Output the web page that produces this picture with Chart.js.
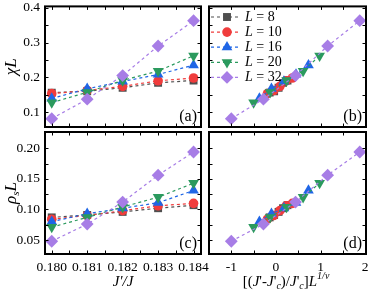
<!DOCTYPE html>
<html>
<head>
<meta charset="utf-8">
<script src="https://cdn.jsdelivr.net/npm/chart.js"></script>
<style>
  html, body { margin: 0; padding: 0; background: #fff; }
  #wrap { position: relative; width: 374px; height: 290px; }
  #wrap canvas { position: absolute; left: 0; top: 0; }
</style>
</head>
<body>
<div id="wrap">
  <canvas id="pa" width="374" height="290"></canvas>
  <canvas id="pb" width="374" height="290"></canvas>
  <canvas id="pc" width="374" height="290"></canvas>
  <canvas id="pd" width="374" height="290"></canvas>
</div>
<script>
// ---- data ----
const jRatio = [0.180, 0.181, 0.182, 0.183, 0.184];
const sizeLabels = ['8', '10', '16', '20', '32'];

// chi * L  (panel a, b)
const chiL8  = [0.156, 0.160, 0.170, 0.184, 0.191];
const chiL10 = [0.153, 0.162, 0.174, 0.190, 0.198];
const chiL16 = [0.139, 0.167, 0.188, 0.208, 0.235];
const chiL20 = [0.127, 0.157, 0.191, 0.218, 0.262];
const chiL32 = [0.081, 0.137, 0.205, 0.290, 0.363];

// rho_s * L  (panel c, d)
const rhoL8  = [0.087, 0.091, 0.096, 0.102, 0.107];
const rhoL10 = [0.084, 0.090, 0.098, 0.106, 0.110];
const rhoL16 = [0.080, 0.093, 0.102, 0.111, 0.131];
const rhoL20 = [0.071, 0.087, 0.104, 0.120, 0.143];
const rhoL32 = [0.048, 0.076, 0.112, 0.156, 0.194];

// [(J'-J'c)/J'c] L^(1/nu)  (panel b, d)
const scaled8  = [-0.14, -0.04, 0.06, 0.16, 0.26];
const scaled10 = [-0.19, -0.05, 0.09, 0.23, 0.37];
const scaled16 = [-0.37, -0.10, 0.18, 0.45, 0.73];
const scaled20 = [-0.50, -0.13, 0.24, 0.61, 0.98];
const scaled32 = [-1.00, -0.28, 0.44, 1.16, 1.88];

// ticks
const jTicks = [0.1800, 0.1805, 0.1810, 0.1815, 0.1820, 0.1825, 0.1830, 0.1835, 0.1840];
const jMajor = [0.180, 0.181, 0.182, 0.183, 0.184];
const jTickLabels = ['0.180', '0.181', '0.182', '0.183', '0.184'];
const chiTicks = [0.10, 0.15, 0.20, 0.25, 0.30, 0.35, 0.40];
const chiMajor = [0.1, 0.2, 0.3, 0.4];
const chiTickLabels = ['0.1', '0.2', '0.3', '0.4'];
const rhoTicks = [0.050, 0.075, 0.100, 0.125, 0.150, 0.175, 0.200];
const rhoMajor = [0.05, 0.10, 0.15, 0.20];
const rhoTickLabels = ['0.05', '0.10', '0.15', '0.20'];
const scTicks = [-1, -0.5, 0, 0.5, 1, 1.5, 2];
const scMajor = [-1, 0, 1, 2];
const scTickLabels = ['-1', '0', '1', '2'];

const chiSets = [chiL8, chiL10, chiL16, chiL20, chiL32];
const rhoSets = [rhoL8, rhoL10, rhoL16, rhoL20, rhoL32];
const scaledSets = [scaled8, scaled10, scaled16, scaled20, scaled32];

const styles = [
  { color: '#4f4f4f', point: 'rect', r: 5.6, rot: 0 },
  { color: '#f03c3c', point: 'circle', r: 4.8, rot: 0 },
  { color: '#1f66e6', point: 'triangle', r: 6.2, rot: 0 },
  { color: '#2b9a5e', point: 'triangle', r: 6.2, rot: 180 },
  { color: '#a77de6', point: 'rectRot', r: 6.4, rot: 0 },
];

const SERIF = "'Liberation Serif', 'DejaVu Serif', serif";
const Y_AXIS_W = 45;   // room for y tick labels
const X_AXIS_H = 28;   // room for x tick labels

function drawMarker(ctx, s, x, y) {
  const r = s.r;
  ctx.beginPath();
  if (s.point === 'rect') {
    const h = r * Math.SQRT1_2;
    ctx.rect(x - h, y - h, 2 * h, 2 * h);
  } else if (s.point === 'circle') {
    ctx.arc(x, y, r, 0, Math.PI * 2);
  } else if (s.point === 'rectRot') {
    ctx.moveTo(x - r, y); ctx.lineTo(x, y - r); ctx.lineTo(x + r, y); ctx.lineTo(x, y + r);
    ctx.closePath();
  } else {
    let a = s.rot * Math.PI / 180;
    for (let k = 0; k < 3; k++) {
      const px = x + Math.sin(a) * r, py = y - Math.cos(a) * r;
      k ? ctx.lineTo(px, py) : ctx.moveTo(px, py);
      a += 2 * Math.PI / 3;
    }
    ctx.closePath();
  }
  ctx.fillStyle = s.color;
  ctx.fill();
}

// draws a run of text parts centred on (cx, cy), optionally rotated
function drawRich(ctx, parts, cx, cy, rotate) {
  ctx.save();
  ctx.translate(cx, cy);
  if (rotate) ctx.rotate(-Math.PI / 2);
  ctx.textBaseline = 'middle';
  ctx.textAlign = 'left';
  ctx.fillStyle = '#000';
  const fontOf = p => (p.i ? 'italic ' : '') + p.size + 'px ' + SERIF;
  let w = 0;
  parts.forEach(p => { ctx.font = fontOf(p); w += ctx.measureText(p.t).width; });
  let x = -w / 2;
  parts.forEach(p => {
    ctx.font = fontOf(p);
    ctx.fillText(p.t, x, p.dy || 0);
    x += ctx.measureText(p.t).width;
  });
  ctx.restore();
}

const decor = {
  id: 'decor',
  afterDraw(chart, args, o) {
    const ctx = chart.ctx, a = chart.chartArea;
    const xs = chart.scales.x, ys = chart.scales.y;
    ctx.save();
    ctx.strokeStyle = '#000';
    ctx.lineWidth = 1;
    ctx.beginPath();
    xs.ticks.forEach(t => {
      const p = Math.round(xs.getPixelForValue(t.value)) + 0.5;
      ctx.moveTo(p, a.bottom); ctx.lineTo(p, a.bottom - 3.5);
      ctx.moveTo(p, a.top); ctx.lineTo(p, a.top + 3.5);
    });
    ys.ticks.forEach(t => {
      const p = Math.round(ys.getPixelForValue(t.value)) + 0.5;
      ctx.moveTo(a.left, p); ctx.lineTo(a.left + 3.5, p);
      ctx.moveTo(a.right, p); ctx.lineTo(a.right - 3.5, p);
    });
    ctx.stroke();
    ctx.lineWidth = 2;
    ctx.strokeRect(a.left, a.top, a.right - a.left, a.bottom - a.top);

    ctx.fillStyle = '#000';
    ctx.font = '16px ' + SERIF;
    ctx.textAlign = 'right';
    ctx.textBaseline = 'alphabetic';
    ctx.fillText(o.tag, a.right - 4, a.bottom - 6);

    if (o.yTitle) drawRich(ctx, o.yTitle, 12, (a.top + a.bottom) / 2, true);
    if (o.xTitle) drawRich(ctx, o.xTitle, o.xTitleX, 282, false);

    if (o.legend) {
      sizeLabels.forEach((lab, i) => {
        const s = styles[i];
        const y = 17 + i * 15.1;
        ctx.save();
        ctx.strokeStyle = s.color;
        ctx.lineWidth = 1.2;
        ctx.setLineDash([3, 3]);
        ctx.beginPath();
        ctx.moveTo(211, y); ctx.lineTo(241, y);
        ctx.stroke();
        ctx.restore();
        drawMarker(ctx, s, 227, y);
        ctx.fillStyle = '#000';
        ctx.textAlign = 'left';
        ctx.textBaseline = 'middle';
        ctx.font = 'italic 14px ' + SERIF;
        ctx.fillText('L', 245, y);
        const lw = ctx.measureText('L').width;
        ctx.font = '14px ' + SERIF;
        ctx.fillText(' = ' + lab, 245 + lw, y);
      });
    }
    ctx.restore();
  }
};

function axis(min, max, ticks, major, labels, show) {
  return {
    type: 'linear',
    min: min,
    max: max,
    grid: { display: false, drawTicks: false },
    border: { display: false },
    afterBuildTicks: s => { s.ticks = ticks.map(v => ({ value: v })); },
    afterFit: s => {
      if (s.isHorizontal()) s.height = show ? X_AXIS_H : 0;
      else s.width = show ? Y_AXIS_W : 0;
      s.paddingTop = s.paddingBottom = s.paddingLeft = s.paddingRight = 0;
    },
    ticks: {
      display: show,
      padding: 5,
      color: '#000',
      autoSkip: false,
      maxRotation: 0,
      font: { family: SERIF, size: 13.5 },
      callback: v => {
        const k = major.findIndex(m => Math.abs(m - v) < 1e-9);
        return k < 0 ? '' : labels[k];
      },
    },
  };
}

// area = [left, top, right, bottom] of the plot frame in page pixels
function panel(id, xSets, ySets, area, xAxis, yAxis, decorOpts) {
  const yW = yAxis.ticks.display ? Y_AXIS_W : 0;
  const xH = xAxis.ticks.display ? X_AXIS_H : 0;
  return new Chart(document.getElementById(id), {
    type: 'line',
    data: {
      datasets: sizeLabels.map((lab, i) => ({
        label: 'L = ' + lab,
        data: xSets[i].map((x, k) => ({ x: x, y: ySets[i][k] })),
        borderColor: styles[i].color,
        backgroundColor: styles[i].color,
        borderWidth: 1.2,
        borderDash: [3, 3],
        pointStyle: styles[i].point,
        pointRotation: styles[i].rot,
        pointRadius: styles[i].r,
        pointBorderWidth: 0,
        order: 4 - i,
      })),
    },
    options: {
      responsive: false,
      animation: false,
      events: [],
      layout: { padding: { left: area[0] - yW, top: area[1], right: 374 - area[2], bottom: 290 - area[3] - xH } },
      scales: { x: xAxis, y: yAxis },
      plugins: { legend: { display: false }, tooltip: { enabled: false }, decor: decorOpts },
    },
    plugins: [decor],
  });
}

const jSets = sizeLabels.map(() => jRatio);

panel('pa', jSets, chiSets, [45, 5, 201, 127],
  axis(0.17981, 0.18421, jTicks, jMajor, jTickLabels, false),
  axis(0.057, 0.404, chiTicks, chiMajor, chiTickLabels, true),
  { tag: '(a)', yTitle: [{ t: 'χL', i: true, size: 17 }] });

panel('pb', scaledSets, chiSets, [209, 5, 366, 127],
  axis(-1.5, 2.02, scTicks, scMajor, scTickLabels, false),
  axis(0.057, 0.404, chiTicks, chiMajor, chiTickLabels, false),
  { tag: '(b)', legend: true });

panel('pc', jSets, rhoSets, [45, 132, 201, 254],
  axis(0.17981, 0.18421, jTicks, jMajor, jTickLabels, true),
  axis(0.0271, 0.2267, rhoTicks, rhoMajor, rhoTickLabels, true),
  { tag: '(c)',
    yTitle: [{ t: 'ρ', i: true, size: 17 }, { t: 's', i: true, size: 11, dy: 4 }, { t: 'L', i: true, size: 17 }],
    xTitle: [{ t: "J'/J", i: true, size: 15 }], xTitleX: 123 });

panel('pd', scaledSets, rhoSets, [209, 132, 366, 254],
  axis(-1.5, 2.02, scTicks, scMajor, scTickLabels, true),
  axis(0.0271, 0.2267, rhoTicks, rhoMajor, rhoTickLabels, false),
  { tag: '(d)',
    xTitle: [
      { t: '[(', size: 15 }, { t: 'J', i: true, size: 15 }, { t: "'-", size: 15 },
      { t: 'J', i: true, size: 15 }, { t: "'", size: 15 }, { t: 'c', i: true, size: 10, dy: 4 },
      { t: ')/', size: 15 }, { t: 'J', i: true, size: 15 }, { t: "'", size: 15 },
      { t: 'c', i: true, size: 10, dy: 4 }, { t: ']', size: 15 }, { t: 'L', i: true, size: 15 },
      { t: '1/ν', i: true, size: 10, dy: -6 },
    ],
    xTitleX: 286 });
</script>
</body>
</html>
